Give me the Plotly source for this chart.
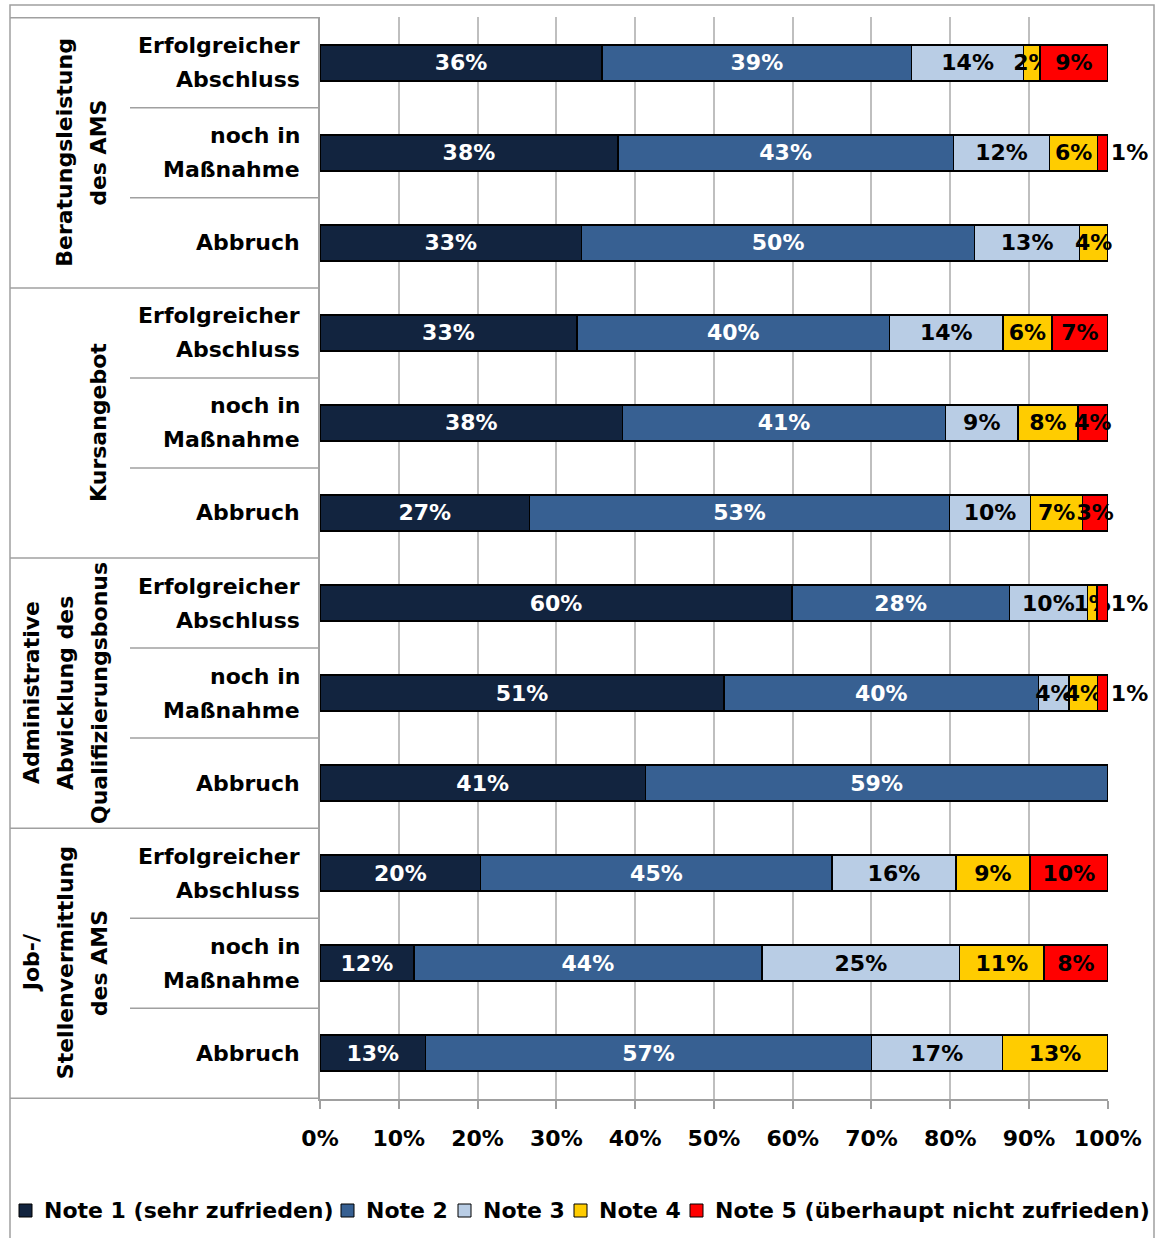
import plotly.graph_objects as go

# --- data (top row first) ---
groups = [
    "Beratungsleistung des AMS",
    "Kursangebot",
    "Administrative Abwicklung des Qualifizierungsbonus",
    "Job-/Stellenvermittlung des AMS",
]
group_lines = [
    ["Beratungsleistung", "des AMS"],
    ["Kursangebot"],
    ["Administrative", "Abwicklung des", "Qualifizierungsbonus"],
    ["Job-/", "Stellenvermittlung", "des AMS"],
]
status = ["Erfolgreicher Abschluss", "noch in Maßnahme", "Abbruch"]
status_lines = [["Erfolgreicher", "Abschluss"], ["noch in", "Maßnahme"], ["Abbruch"]]

series_names = [
    "Note 1 (sehr zufrieden)",
    "Note 2",
    "Note 3",
    "Note 4",
    "Note 5 (überhaupt nicht zufrieden)",
]
note1 = [35.8, 37.8, 33.2, 32.6, 38.4, 26.6, 59.9, 51.3, 41.3, 20.4, 11.9, 13.4]
note2 = [39.3, 42.6, 49.9, 39.7, 41.0, 53.3, 27.6, 39.9, 58.7, 44.6, 44.2, 56.6]
note3 = [14.2, 12.2, 13.3, 14.4, 9.2, 10.3, 9.9, 3.9, None, 15.7, 25.1, 16.6]
note4 = [2.1, 6.1, 3.6, 6.2, 7.6, 6.6, 1.2, 3.6, None, 9.4, 10.7, 13.4]
note5 = [8.6, 1.3, None, 7.1, 3.8, 3.2, 1.4, 1.3, None, 9.9, 8.1, None]
x_ticks = list(range(0, 101, 10))
x_ticktext = [f"{v}%" for v in x_ticks]

# --- styling ---
colors = ["#12243F", "#376092", "#B9CDE5", "#FFCC00", "#FF0000"]
text_colors = ["white", "white", "black", "black", "black"]
FONT = "DejaVu Sans"
FS = 22
LINE_GRAY = "#A0A0A0"

W, H = 1159, 1238
L, R, T, B = 320, 51, 17, 139
PW, PH = W - L - R, H - T - B


def px_x(p):
    return (p - L) / PW


def px_y(p):
    return (H - B - p) / PH


cats = [f"{g} – {s}" for g in groups for s in status]
series = [note1, note2, note3, note4, note5]

fig = go.Figure()
for idx, (name, vals, col, tcol) in enumerate(zip(series_names, series, colors, text_colors)):
    last = idx == len(series) - 1
    text = [f"{v:.0f}%" if v else "" for v in vals]
    pos = ["outside" if (last and v is not None and v < 2) else "inside" for v in vals]
    fig.add_trace(go.Bar(
        y=cats, x=vals, name=name, orientation="h",
        marker=dict(color=col, line=dict(color="black", width=1.5)),
        text=text, textposition=pos, textangle=0, constraintext="none",
        insidetextanchor="middle", cliponaxis=False,
        insidetextfont=dict(family=FONT, size=FS, color=tcol, weight="bold"),
        outsidetextfont=dict(family=FONT, size=FS, color="black", weight="bold"),
        showlegend=False,
    ))

shapes = []
# outer frame
shapes.append(dict(type="rect", xref="paper", yref="paper",
                   x0=px_x(10), x1=px_x(1154), y0=px_y(1250), y1=px_y(5),
                   line=dict(color=LINE_GRAY, width=1.5), layer="below"))
# table lines on the category side
for i in range(len(cats) + 1):
    x0 = px_x(10) if i % 3 == 0 else px_x(130)
    shapes.append(dict(type="line", xref="paper", yref="y", x0=x0, x1=0,
                       y0=i - 0.5, y1=i - 0.5, line=dict(color=LINE_GRAY, width=1.5)))

annotations = []
for i, c in enumerate(cats):
    lines = status_lines[i % 3]
    n = len(lines)
    for k, ln in enumerate(lines):
        annotations.append(dict(
            xref="paper", yref="y", x=px_x(302), y=c, text=ln, showarrow=False,
            xanchor="right", yanchor="middle", yshift=((n - 1) / 2 - k) * 34,
            font=dict(family=FONT, size=FS, color="black", weight="bold")))
for g, lines in enumerate(group_lines):
    n = len(lines)
    for k, ln in enumerate(lines):
        annotations.append(dict(
            xref="paper", yref="y", x=px_x(99 - (n - 1 - k) * 34), y=cats[g * 3 + 1],
            text=ln, showarrow=False, textangle=-90, xanchor="center", yanchor="middle",
            font=dict(family=FONT, size=FS, color="black", weight="bold")))

# legend (drawn by hand to keep the compact Excel-like spacing)
legend_text_x = [42, 364, 481, 597, 713]
legend_y = 1210
for name, col, tx in zip(series_names, colors, legend_text_x):
    shapes.append(dict(type="rect", xref="paper", yref="paper",
                       x0=px_x(tx - 23), x1=px_x(tx - 10),
                       y0=px_y(legend_y + 7), y1=px_y(legend_y - 6),
                       fillcolor=col, line=dict(color="black", width=1)))
    annotations.append(dict(
        xref="paper", yref="paper", x=px_x(tx), y=px_y(legend_y), text=name,
        showarrow=False, xanchor="left", yanchor="middle",
        font=dict(family=FONT, size=FS, color="black", weight="bold")))

fig.update_layout(
    width=W, height=H,
    margin=dict(l=L, r=R, t=T, b=B),
    barmode="stack", bargap=0.6,
    paper_bgcolor="white", plot_bgcolor="white",
    shapes=shapes, annotations=annotations,
    xaxis=dict(range=[0, 100.02], tickvals=x_ticks, ticktext=x_ticktext,
               showgrid=True, gridcolor="#BFBFBF", gridwidth=1.5, zeroline=False,
               showline=True, linecolor=LINE_GRAY, linewidth=1.5,
               ticks="outside", ticklen=8, tickcolor=LINE_GRAY, tickwidth=1.5,
               ticklabelstandoff=11,
               tickfont=dict(family=FONT, size=FS, color="black", weight="bold")),
    yaxis=dict(type="category", categoryorder="array", categoryarray=cats,
               autorange="reversed", showticklabels=False, showgrid=False,
               showline=True, linecolor=LINE_GRAY, linewidth=1.5, ticks=""),
)

fig.write_html("out.html", config={"displayModeBar": False},
               post_script="document.body.style.margin='0';")
